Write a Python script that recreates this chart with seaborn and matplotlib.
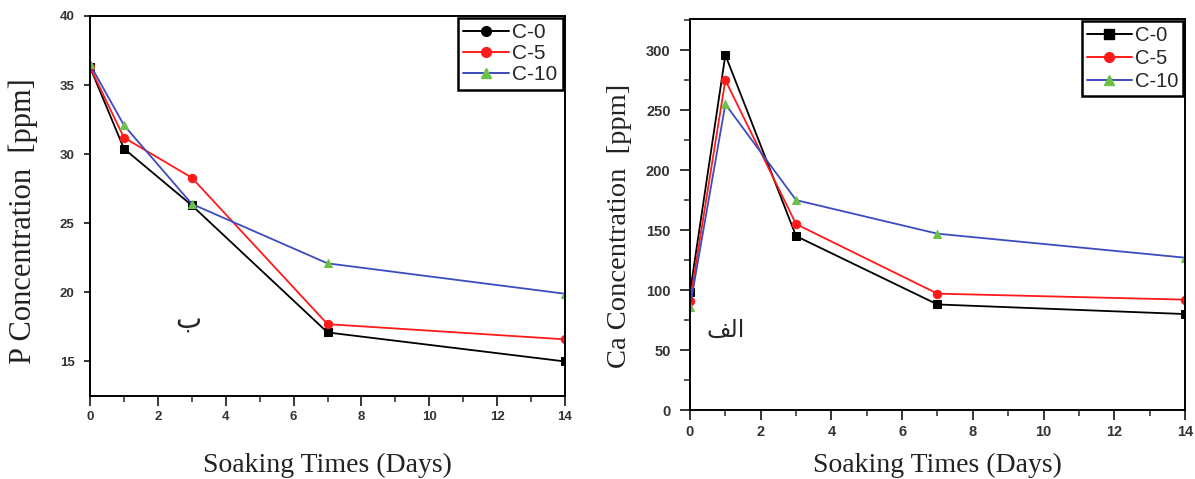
import matplotlib
matplotlib.use("Agg")
import matplotlib.pyplot as plt
import seaborn as sns
from matplotlib.lines import Line2D
from matplotlib.ticker import MultipleLocator

# ---------------------------------------------------------------------------
# Data
# ---------------------------------------------------------------------------
days = [0, 1, 3, 7, 14]
series_names = ["C-0", "C-5", "C-10"]

# left panel (ب): phosphorus
p_c0 = [36.3, 30.4, 26.3, 17.1, 15.0]
p_c5 = [36.3, 31.2, 28.3, 17.7, 16.6]
p_c10 = [36.5, 32.1, 26.4, 22.1, 19.9]

# right panel (الف): calcium
ca_c0 = [98, 296, 145, 88, 80]
ca_c5 = [91, 275, 155, 97, 92]
ca_c10 = [86, 255, 175, 147, 127]

sns.set_style("ticks")
plt.rcParams["font.family"] = ["Liberation Sans", "DejaVu Sans"]

fig = plt.figure(figsize=(11.95, 4.79), dpi=100)
ax_p = fig.add_axes([90 / 1195, 1 - 396 / 479, 475 / 1195, 380 / 479])
ax_ca = fig.add_axes([690 / 1195, 1 - 410 / 479, 495 / 1195, 391 / 479])

green = "#6cc04a"
styles = {
    "C-0": dict(color="black", marker="s", mfc="black", mec="black"),
    "C-5": dict(color="#ff1a1a", marker="o", mfc="#ff1a1a", mec="#ff1a1a"),
    "C-10": dict(color="#3c4cc0", marker="^", mfc=green, mec=green),
}


def draw_panel(ax, values, legend_markers, tick_size, ylen, leg_size, leg_space):
    for name, vals in zip(series_names, values):
        st = styles[name]
        sns.lineplot(x=days, y=vals, ax=ax, color=st["color"], marker=st["marker"],
                     markerfacecolor=st["mfc"], markeredgecolor=st["mec"],
                     markersize=6, linewidth=1.3)
    ax.set_xlim(0, 14)
    ax.xaxis.set_major_locator(MultipleLocator(2))
    ax.xaxis.set_minor_locator(MultipleLocator(1))
    for sp in ax.spines.values():
        sp.set_visible(True)
        sp.set_color("black")
        sp.set_linewidth(1.4)
    ax.tick_params(which="major", direction="out", width=1.3,
                   labelsize=tick_size, labelcolor="#333333")
    ax.tick_params(axis="x", which="major", length=7, pad=4)
    ax.tick_params(axis="y", which="major", length=ylen, pad=7)
    ax.tick_params(which="minor", direction="out", length=4, width=1.1)
    for lab in ax.get_xticklabels() + ax.get_yticklabels():
        lab.set_fontweight("bold")
    ax.set_xlabel("Soaking Times (Days)", family="Liberation Serif", fontsize=20,
                  color="#222222")

    # legend drawn with the marker shapes shown in the reference legend box
    handles = []
    for name, mk in zip(series_names, legend_markers):
        st = styles[name]
        handles.append(Line2D([0], [0], color=st["color"], marker=mk,
                              markerfacecolor=st["mfc"], markeredgecolor=st["mec"],
                              markersize=7, linewidth=1.4))
    leg = ax.legend(handles, series_names, loc="upper right", fontsize=leg_size,
                    frameon=True, fancybox=False, handlelength=2.2,
                    handletextpad=0.15, labelspacing=leg_space, borderpad=0.25,
                    borderaxespad=0.1)
    leg.get_frame().set_edgecolor("black")
    leg.get_frame().set_linewidth(1.8)
    leg.get_frame().set_alpha(1)


draw_panel(ax_p, [p_c0, p_c5, p_c10], ["o", "o", "^"], 9.5, 4, 15, 0.1)
ax_p.set_ylim(12.5, 40)
ax_p.yaxis.set_major_locator(MultipleLocator(5))
ax_p.set_ylabel("P Concentration  [ppm]", family="Liberation Serif", fontsize=22,
                color="#222222")
ax_p.yaxis.set_label_coords(-0.11, 0.46)
ax_p.xaxis.labelpad = 21
ax_p.text(0.207, 0.2, "ب", transform=ax_p.transAxes, family="DejaVu Sans",
          fontsize=20, ha="center", va="center")

draw_panel(ax_ca, [ca_c0, ca_c5, ca_c10], ["s", "o", "^"], 10.5, 7, 14.5, 0.2)
ax_ca.set_ylim(0, 326)
ax_ca.yaxis.set_major_locator(MultipleLocator(50))
ax_ca.yaxis.set_minor_locator(MultipleLocator(25))
ax_ca.set_ylabel("Ca Concentration  [ppm]", family="Liberation Serif", fontsize=20.5,
                 color="#222222")
ax_ca.yaxis.set_label_coords(-0.117, 0.47)
ax_ca.xaxis.labelpad = 10
# pre-shaped Arabic "الف" in visual order (feh final, lam initial, alef)
ax_ca.text(0.072, 0.205, "\ufed2\ufedf\ufe8d", transform=ax_ca.transAxes,
           family="DejaVu Sans", fontsize=17, ha="center", va="center")

fig.savefig("out.png", dpi=100)
plt.close(fig)
